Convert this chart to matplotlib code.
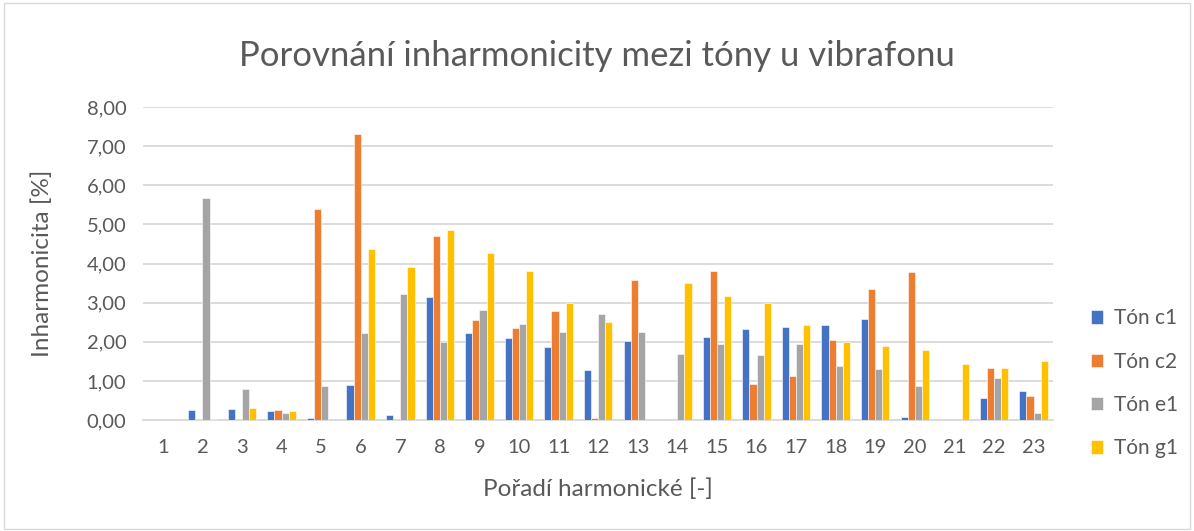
import matplotlib.pyplot as plt
import numpy as np
from matplotlib.patches import Rectangle

plt.rcParams['font.family'] = ['Lato', 'DejaVu Sans']

harmonics = [str(i) for i in range(1, 24)]
ton_c1 = [0, 0.26, 0.27, 0.22, 0.05, 0.90, 0.14, 3.15, 2.23, 2.09, 1.87, 1.28,
          2.03, 0, 2.12, 2.32, 2.37, 2.43, 2.59, 0.07, 0, 0.56, 0.74]
ton_c2 = [0, 0, 0, 0.26, 5.39, 7.32, 0, 4.70, 2.55, 2.36, 2.78, 0.04,
          3.57, 0, 3.82, 0.91, 1.13, 2.05, 3.34, 3.79, 0, 1.32, 0.61]
ton_e1 = [0, 5.68, 0.80, 0.17, 0.88, 2.23, 3.22, 2.00, 2.82, 2.46, 2.26, 2.70,
          2.26, 1.69, 1.94, 1.65, 1.94, 1.39, 1.30, 0.86, 0, 1.08, 0.18]
ton_g1 = [0, 0.02, 0.32, 0.23, 0, 4.36, 3.92, 4.86, 4.28, 3.82, 2.99, 2.51,
          0, 3.50, 3.17, 2.99, 2.42, 2.00, 1.89, 1.78, 1.42, 1.32, 1.51]
series = {'Tón c1': ton_c1, 'Tón c2': ton_c2, 'Tón e1': ton_e1, 'Tón g1': ton_g1}
colors = ['#4472C4', '#ED7D31', '#A5A5A5', '#FFC000']

fig = plt.figure(figsize=(11.94, 5.31), dpi=100)
fig.patches.append(Rectangle((0.003, 0.004), 0.994, 0.99, transform=fig.transFigure,
                             fill=False, edgecolor='#d9d9d9', linewidth=1))
ax = fig.add_axes([0.1198, 0.209, 0.7624, 0.5895])

x = np.arange(len(harmonics))
w = 0.18
for i, (name, vals) in enumerate(series.items()):
    ax.bar(x + (i - 1.5) * w, vals, width=w, color=colors[i], label=name,
           edgecolor='white', linewidth=0.4, zorder=3)

ax.set_xlim(-0.5, len(harmonics) - 0.5)
ax.set_ylim(0, 8)
ax.set_yticks(np.arange(0, 9, 1))
ax.set_yticklabels([f'{v:.2f}'.replace('.', ',') for v in range(0, 9)])
ax.set_xticks(x)
ax.set_xticklabels(harmonics)
ax.tick_params(length=0, labelsize=14.5, colors='#595959')
ax.tick_params(axis='x', pad=14)
ax.tick_params(axis='y', pad=12)
ax.grid(axis='y', color='#d9d9d9', linewidth=1.3, zorder=0)
for s in ['top', 'right', 'left']:
    ax.spines[s].set_visible(False)
ax.spines['bottom'].set_color('#d9d9d9')
ax.spines['bottom'].set_linewidth(1.3)

ax.set_xlabel('Pořadí harmonické [-]', fontsize=17.5, color='#595959', labelpad=16)
ax.set_ylabel('Inharmonicita [%]', fontsize=17.5, color='#595959', labelpad=24)
fig.suptitle('Porovnání inharmonicity mezi tóny u vibrafonu', fontsize=25,
             color='#595959', y=0.925)

fig.legend(loc='center left', bbox_to_anchor=(0.898, 0.278), frameon=False,
           fontsize=15, labelcolor='#595959', handlelength=0.6, handleheight=0.6,
           labelspacing=1.12, handletextpad=0.5)

fig.savefig('out.png', dpi=100)
